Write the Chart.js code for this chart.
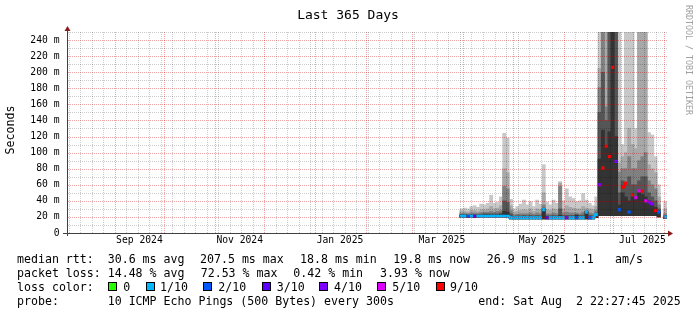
<!DOCTYPE html>
<html>
<head>
<meta charset="utf-8">
<title>Last 365 Days</title>
<script src="https://cdn.jsdelivr.net/npm/chart.js@4.4.1/dist/chart.umd.min.js"></script>
<style>
  html, body { margin: 0; padding: 0; background: #fff; }
  #wrap { width: 697px; height: 315px; }
</style>
</head>
<body>
<div id="wrap"><canvas id="chart" width="697" height="315"></canvas></div>
<script>
// SmokePing style RTT graph, last 365 days

const END_TIME = '2025-08-02T22:27:45Z';
const SPAN_DAYS = 365;
const BIN_DAYS = 2;

// x axis: labels, month lines, week lines (Sundays)
const xLabelText = ['Sep 2024', 'Nov 2024', 'Jan 2025', 'Mar 2025', 'May 2025', 'Jul 2025'];
const xLabelDates = ['2024-09-16T00:00:00Z', '2024-11-16T00:00:00Z', '2025-01-16T00:00:00Z',
                     '2025-03-19T00:00:00Z', '2025-05-19T00:00:00Z', '2025-07-19T00:00:00Z'];
const monthStarts = ['2024-09-01', '2024-10-01', '2024-11-01', '2024-12-01', '2025-01-01', '2025-02-01',
                     '2025-03-01', '2025-04-01', '2025-05-01', '2025-06-01', '2025-07-01', '2025-08-01'];
const firstSunday = '2024-08-04';

// y axis (ms)
const yMax = 250;
const yStep = 10;
const yLabelStep = 20;

// 2-day bins, day offset from graph start
const binDays = [
  240, 242, 244, 246, 248, 250, 252, 254, 256, 258,
  260, 262, 264, 266, 268, 270, 272, 274, 276, 278,
  280, 282, 284, 286, 288, 290, 292, 294, 296, 298,
  300, 302, 304, 306, 308, 310, 312, 314, 316, 318,
  320, 322, 324, 326, 328, 330, 332, 334, 336, 338,
  340, 342, 344, 346, 348, 350, 352, 354, 356, 358,
  360, 362, 364
];

// bottom of the smoke (ms)
const rttLow = [
  19.3, 19.3, 19.3, 19.3, 19.3, 19.3, 19.3, 19.3, 19.3, 19.3,
  19.3, 19.3, 19.3, 19.3, 19.3, 17.5, 17.5, 17.5, 17.5, 17.5,
  17.5, 17.5, 17.5, 17.5, 17.5, 17.5, 17.5, 17.5, 17.5, 17.5,
  17.5, 17.5, 17.5, 17.5, 17.5, 17.5, 17.5, 17.5, 17.5, 17.5,
  17.5, 19, 21.5, 21.5, 21.5, 21.5, 21.5, 21.5, 21.5, 21.5,
  21.5, 21.5, 21.5, 21.5, 21.5, 21.5, 21.5, 21.5, 21.5, 21.5,
  20, null, 17.8
];

// smoke layer tops (ms), innermost / darkest first
const smoke1 = [
  22, 22, 21.8, 22, 22, 22, 22, 22.5, 22.5, 22.5,
  22, 22.5, 23, 27, 26, 21, 20, 20, 20, 20,
  20, 20, 20, 20, 20, 29.5, 20, 20, 20, 20,
  22, 20, 20, 20, 20, 22, 20, 20.5, 26.5, 20,
  20, 23, 92, 128, 108, 126, 255, 120, 35, 50,
  45, 40, 45, 45, 50, 48, 45, 40, 35, 32,
  27, null, 20.5
];
const smoke2 = [
  23, 23, 22.5, 23, 23, 23, 23.5, 24, 24, 24,
  24, 24, 25, 40, 38, 24, 21, 21.5, 21.5, 22,
  21.5, 22, 21.5, 22, 21.5, 31, 21.5, 21.5, 22, 21.5,
  30, 22, 22, 22, 22, 23, 22, 22.5, 27, 22,
  21.5, 25, 150, 200, 140, 255, 255, 255, 50, 65,
  60, 70, 60, 60, 65, 70, 70, 50, 45, 40,
  30, null, 22
];
const smoke3 = [
  24.5, 24.5, 24, 25, 25, 24.5, 25.5, 26, 26, 27,
  26, 27, 28, 58, 55, 28, 23, 23.5, 24, 24,
  24, 25, 23.5, 25, 24, 35, 24, 23.5, 25, 24,
  58, 25, 26, 25, 25, 25, 24, 26, 28, 25,
  24, 28, 181, 255, 157, 255, 255, 255, 76, 80,
  80, 95, 80, 80, 90, 95, 100, 65, 60, 55,
  35, null, 24
];
const smoke4 = [
  27, 27, 26, 28, 28, 27, 29, 29, 30, 33,
  30, 31, 34, 80, 75, 34, 26, 27, 28, 29,
  28, 30, 27, 30, 29, 50, 29, 28, 30, 29,
  62, 30, 34, 32, 31, 30, 30, 33, 31, 30,
  29, 33, 205, 255, 255, 255, 255, 255, 87, 95,
  100, 130, 110, 105, 255, 255, 255, 85, 80, 75,
  45, null, 30
];
const smoke5 = [
  30, 31, 30, 33, 34, 32, 36, 35, 37, 47,
  37, 38, 45, 124, 118, 42, 30, 33, 36, 41,
  35, 39, 33, 41, 36, 85, 38, 35, 41, 37,
  64, 40, 55, 45, 43, 39, 40, 49, 41, 37,
  34, 45, 255, 255, 255, 255, 255, 255, 255, 110,
  255, 255, 255, 130, 255, 255, 255, 125, 122, 95,
  60, null, 39
];

// median rtt (ms) and loss class per bin (index into lossLabels)
const medianRtt = [
  20.8, 20.8, 20.8, 20.8, 20.8, 20.8, 20.8, 20.8, 20.8, 20.8,
  20.8, 20.8, 20.8, 20.8, 20.8, 19, 19, 19, 19, 19,
  19, 19, 19, 19, 19, 29, 19, 19, 19, 19,
  19, 19, 19, 19, 19, 19, 19, 19, 26, 19,
  19, 23, 60, 81, 108, 95, 206, 89, 29, 57,
  62, 26, 47.6, 44, 52.6, 52, 40, 38.6, 36, 28,
  26, null, 19.8
];
const lossIdx = [
  1, 1, 2, 1, 3, 1, 1, 1, 1, 1,
  1, 1, 1, 1, 1, 1, 1, 1, 1, 1,
  1, 1, 1, 1, 1, 1, 3, 1, 1, 1,
  1, 1, 4, 1, 1, 2, 1, 1, 1, 2,
  1, 1, 4, 6, 6, 6, 6, 4, 2, 6,
  6, 2, 6, 5, 5, 6, 5, 4, 4, 6,
  2, null, 1
];

const lossLabels = ['0', '1/10', '2/10', '3/10', '4/10', '5/10', '9/10'];
const lossColors = ['#26ff00', '#00b8ff', '#0059ff', '#5e00ff', '#7e00ff', '#dd00ff', '#ff0000'];
const smokeColors = ['#333333', '#555555', '#808080', '#a8a8a8', '#c8c8c8'];

// legend text
const rttStats = ['30.6 ms avg', '207.5 ms max', '18.8 ms min', '19.8 ms now', '26.9 ms sd', '1.1', 'am/s'];
const lossStats = ['14.48 % avg', '72.53 % max', '0.42 % min', '3.93 % now'];
const probeText = '10 ICMP Echo Pings (500 Bytes) every 300s';
const endText = 'end: Sat Aug  2 22:27:45 2025';

// layout of the picture
const PLOT = { left: 67, top: 32, right: 667, bottom: 233 };
const MONO = '"DejaVu Sans Mono", monospace';
const MINOR_GRID = 'rgba(0, 0, 0, 0.2)';
const MAJOR_GRID = 'rgba(200, 0, 0, 0.36)';

// helpers
const endMs = Date.parse(END_TIME);
const startMs = endMs - SPAN_DAYS * 86400000;
function dayOf(s) {
    const iso = s.length === 10 ? s + 'T00:00:00Z' : s;
    return (Date.parse(iso) - startMs) / 86400000;
}

const labelDays = xLabelDates.map(dayOf);
const monthDays = monthStarts.map(dayOf);
const weekDays = [];
for (let d = dayOf(firstSunday); d < SPAN_DAYS; d += 7) {
    if (!monthDays.some(m => Math.abs(m - d) < 0.01)) weekDays.push(d);
}

// smoke layers as floating bars
function layerData(tops) {
    const pts = [];
    binDays.forEach((d, i) => {
        if (tops[i] === null || rttLow[i] === null) return;
        pts.push({ x: d, y: [rttLow[i], tops[i]] });
    });
    return pts;
}
const binPx = BIN_DAYS * (PLOT.right - PLOT.left) / SPAN_DAYS;
const smokeSets = [smoke1, smoke2, smoke3, smoke4, smoke5].map((tops, k) => ({
    type: 'bar',
    data: layerData(tops),
    backgroundColor: smokeColors[k],
    borderWidth: 0,
    grouped: false,
    barThickness: binPx,
    inflateAmount: 0.3,
    order: k + 1
}));

const medianSet = {
    type: 'line',
    data: binDays.map((d, i) => ({ x: d, y: medianRtt[i] })),
    stepped: 'middle',
    spanGaps: false,
    borderWidth: 2,
    borderColor: 'rgba(0,0,0,0)',
    segment: {
        borderColor: c => {
            const a = c.p0DataIndex, b = c.p1DataIndex;
            if (lossIdx[a] !== lossIdx[b] || Math.abs(medianRtt[a] - medianRtt[b]) > 6) return 'rgba(0,0,0,0)';
            return lossColors[lossIdx[a]];
        }
    },
    pointStyle: 'rect',
    pointRadius: 2.2,
    pointBorderWidth: 0,
    pointBackgroundColor: c => lossColors[lossIdx[c.dataIndex]] || 'rgba(0,0,0,0)',
    order: 0
};

// dotted grid over the data, like rrdtool
const dottedGrid = {
    id: 'dottedGrid',
    afterDatasetsDraw(chart) {
        const ctx = chart.ctx;
        const a = chart.chartArea;
        const xs = chart.scales.x, ys = chart.scales.y;
        ctx.save();
        const vline = (v, color) => {
            const px = Math.round(xs.getPixelForValue(v));
            ctx.fillStyle = color;
            for (let y = a.top; y < a.bottom; y += 2) ctx.fillRect(px, y, 1, 1);
        };
        const hline = (v, color) => {
            const py = Math.round(ys.getPixelForValue(v));
            ctx.fillStyle = color;
            for (let x = a.left + 1; x < a.right; x += 2) ctx.fillRect(x, py, 1, 1);
        };
        weekDays.forEach(d => vline(d, MINOR_GRID));
        monthDays.forEach(d => vline(d, MAJOR_GRID));
        for (let v = yStep; v <= yMax; v += yStep) hline(v, v % yLabelStep === 0 ? MAJOR_GRID : MINOR_GRID);
        ctx.restore();
    }
};

// title, axis lines, arrows, watermark and legend
const decorations = {
    id: 'decorations',
    afterDraw(chart) {
        const ctx = chart.ctx;
        const a = chart.chartArea;
        ctx.save();

        // axes
        ctx.strokeStyle = '#404040';
        ctx.lineWidth = 1;
        ctx.beginPath();
        ctx.moveTo(a.left + 0.5, a.bottom + 3);
        ctx.lineTo(a.left + 0.5, a.top - 2);
        ctx.moveTo(a.left - 4, a.bottom + 0.5);
        ctx.lineTo(a.right + 2, a.bottom + 0.5);
        ctx.stroke();

        // arrows
        ctx.fillStyle = '#8b1a1a';
        ctx.beginPath();
        ctx.moveTo(a.left - 2.5, a.top - 1);
        ctx.lineTo(a.left + 3.5, a.top - 1);
        ctx.lineTo(a.left + 0.5, a.top - 6);
        ctx.closePath();
        ctx.fill();
        ctx.beginPath();
        ctx.moveTo(a.right + 1, a.bottom - 2.5);
        ctx.lineTo(a.right + 1, a.bottom + 3.5);
        ctx.lineTo(a.right + 6, a.bottom + 0.5);
        ctx.closePath();
        ctx.fill();

        // title
        ctx.fillStyle = '#000';
        ctx.font = '13px ' + MONO;
        ctx.textAlign = 'center';
        ctx.textBaseline = 'alphabetic';
        ctx.fillText('Last 365 Days', 348, 18.5);

        // y axis title
        ctx.save();
        ctx.font = '11.6px ' + MONO;
        ctx.translate(10.5, 130);
        ctx.rotate(-Math.PI / 2);
        ctx.textBaseline = 'middle';
        ctx.fillText('Seconds', 0, 0);
        ctx.restore();

        // watermark
        ctx.save();
        ctx.font = '8.3px ' + MONO;
        ctx.fillStyle = '#a0a0a0';
        ctx.translate(688.3, 5);
        ctx.rotate(Math.PI / 2);
        ctx.textAlign = 'left';
        ctx.textBaseline = 'middle';
        ctx.fillText('RRDTOOL / TOBI OETIKER', 0, 0);
        ctx.restore();

        // legend
        ctx.font = '11.6px ' + MONO;
        ctx.textAlign = 'left';
        ctx.fillStyle = '#000';
        const row = [263, 277, 291, 305];
        ctx.fillText('median rtt:', 17, row[0]);
        [107.7, 200, 300, 393.3, 486.7, 572.7, 615].forEach((x, i) => ctx.fillText(rttStats[i], x, row[0]));
        ctx.fillText('packet loss:', 17, row[1]);
        [107.7, 200.7, 293.3, 380].forEach((x, i) => ctx.fillText(lossStats[i], x, row[1]));
        ctx.fillText('loss color:', 17, row[2]);
        const boxX = [108, 146, 203, 262, 319, 377, 436];
        const labX = [123.3, 160, 218.3, 276.7, 334, 392.3, 450];
        lossLabels.forEach((lab, i) => {
            ctx.fillStyle = lossColors[i];
            ctx.fillRect(boxX[i], 282, 9, 9);
            ctx.strokeStyle = '#000';
            ctx.strokeRect(boxX[i] + 0.5, 282.5, 8, 8);
            ctx.fillStyle = '#000';
            ctx.fillText(lab, labX[i], row[2]);
        });
        ctx.fillText('probe:', 17, row[3]);
        ctx.fillText(probeText, 107.7, row[3]);
        ctx.fillText(endText, 478.3, row[3]);

        ctx.restore();
    }
};

new Chart(document.getElementById('chart'), {
    data: { datasets: [medianSet, ...smokeSets] },
    options: {
        responsive: false,
        devicePixelRatio: 1,
        animation: false,
        events: [],
        layout: { padding: { top: PLOT.top, right: 697 - PLOT.right, bottom: 0, left: 0 } },
        plugins: { legend: { display: false }, tooltip: { enabled: false }, title: { display: false } },
        scales: {
            x: {
                type: 'linear',
                offset: false,
                min: 0,
                max: SPAN_DAYS,
                afterBuildTicks: s => { s.ticks = labelDays.map(v => ({ value: v })); },
                afterFit: s => {
                    s.height = 315 - PLOT.bottom;
                    s.paddingLeft = 0;
                    s.paddingRight = 0;
                },
                grid: { display: false, drawTicks: false, offset: false },
                border: { display: false },
                ticks: {
                    autoSkip: false,
                    maxRotation: 0,
                    padding: 2,
                    color: '#000',
                    font: { family: MONO, size: 9.7 },
                    callback: (v, i) => xLabelText[i]
                }
            },
            y: {
                type: 'linear',
                min: 0,
                max: yMax,
                afterFit: s => {
                    s.width = PLOT.left;
                    s.paddingTop = 0;
                    s.paddingBottom = 0;
                },
                grid: { display: false, drawTicks: false },
                border: { display: false },
                ticks: {
                    stepSize: yStep,
                    autoSkip: false,
                    padding: 7.5,
                    color: '#000',
                    font: { family: MONO, size: 9.7 },
                    callback: v => (v % yLabelStep !== 0) ? '' : (v === 0 ? '0' : v + ' m')
                }
            }
        }
    },
    plugins: [dottedGrid, decorations]
});
</script>
</body>
</html>
